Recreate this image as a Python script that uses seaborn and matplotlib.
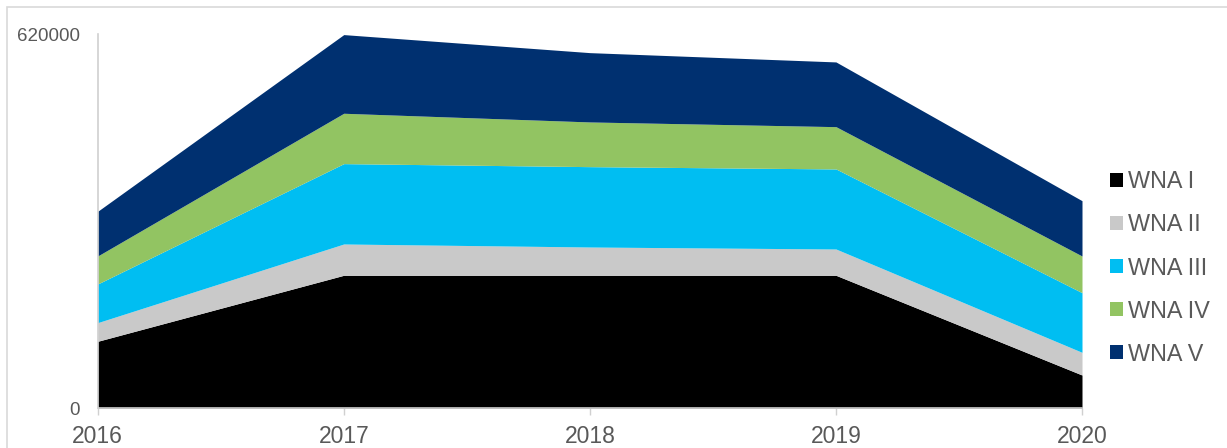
import matplotlib
matplotlib.use("Agg")
import matplotlib.pyplot as plt
from matplotlib.patches import Patch, Rectangle
import seaborn as sns
import pandas as pd

# ==========================================
# Data
# ==========================================

years = [2016, 2017, 2018, 2019, 2020]
series_names = ["WNA I", "WNA II", "WNA III", "WNA IV", "WNA V"]

wna_1 = [110600, 220000, 220000, 220000, 54700]
wna_2 = [30900, 51900, 46900, 43600, 37600]
wna_3 = [64100, 133200, 133200, 132700, 98900]
wna_4 = [46400, 83500, 74100, 70100, 60800]
wna_5 = [74100, 130400, 114900, 107300, 91700]

colors = ["#000000", "#C9C9C9", "#00BEF2", "#92C462", "#003070"]

df = pd.DataFrame(
    {
        "year": years,
        "WNA I": wna_1,
        "WNA II": wna_2,
        "WNA III": wna_3,
        "WNA IV": wna_4,
        "WNA V": wna_5,
    }
)

# ==========================================
# Plot
# ==========================================

sns.set_theme(style="white")
plt.rcParams["font.family"] = ["Liberation Sans", "DejaVu Sans"]

fig = plt.figure(figsize=(12.27, 4.48), dpi=100)
ax = fig.add_axes([97.7 / 1227, 40 / 448, (1082 - 97.7) / 1227, 374 / 448])

ax.stackplot(
    df["year"],
    [df[name] for name in series_names],
    colors=colors,
    linewidth=0,
)

ax.set_xlim(2016, 2020)
ax.set_ylim(0, 620000)
ax.set_xticks(years)
ax.set_xticklabels([str(y) for y in years])
ax.set_yticks([0, 620000])
ax.set_yticklabels(["0", "620000"])

ax.tick_params(axis="x", colors="#D0D0D0", length=5, width=1, pad=7,
               labelsize=16.5, labelcolor="#595959", bottom=True)
ax.tick_params(axis="y", length=0, pad=12.7, labelsize=13.5, labelcolor="#595959")

sns.despine(ax=ax, top=True, right=True)
for side in ["left", "bottom"]:
    ax.spines[side].set_color("#D0D0D0")
    ax.spines[side].set_linewidth(1.2)
ax.set_facecolor("none")

# outer frame of the chart area
fig.patches.append(
    Rectangle((7 / 1227, -0.5), 2, 1.5 - 7 / 448,
              transform=fig.transFigure, fill=False,
              edgecolor="#D9D9D9", linewidth=1.2, zorder=0)
)

handles = [Patch(facecolor=c, edgecolor="none") for c in colors]
fig.legend(
    handles,
    series_names,
    loc="center left",
    bbox_to_anchor=(1110 / 1227, 1 - 268 / 448),
    frameon=False,
    fontsize=16.8,
    labelcolor="#595959",
    handlelength=0.56,
    handleheight=0.56,
    handletextpad=0.2,
    labelspacing=0.86,
    borderpad=0,
    borderaxespad=0,
)

plt.savefig("out.png", dpi=100)
plt.close()
